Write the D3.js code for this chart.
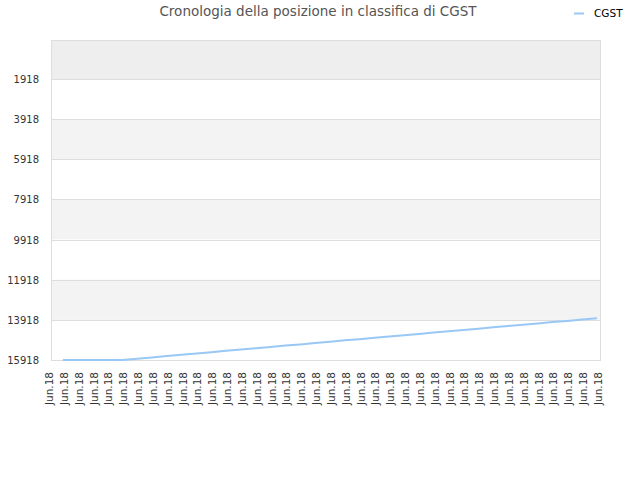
<!DOCTYPE html>
<html>
<head>
<meta charset="utf-8">
<script src="https://d3js.org/d3.v7.min.js"></script>
<style>
  body { margin: 0; background: #fff; }
  text { font-family: "DejaVu Sans", sans-serif; }
</style>
</head>
<body>
<div id="chart"></div>
<script>
var title = "Cronologia della posizione in classifica di CGST";
var seriesName = "CGST";
var tickLabels = d3.range(38).map(function() { return "Jun.18"; });
var yTicks = [1918, 3918, 5918, 7918, 9918, 11918, 13918, 15918];
var pointPos = [0.8, 1.8, 2.8, 3.8, 4.8, 5.8, 6.8, 7.8, 8.8, 9.8, 10.8, 11.8, 12.8,
  13.8, 14.8, 15.8, 16.8, 17.8, 18.8, 19.8, 20.8, 21.8, 22.8, 23.8, 24.8, 25.8,
  26.8, 27.8, 28.8, 29.8, 30.8, 31.8, 32.8, 33.8, 34.8, 35.8, 36.8];
var ranks = [15918, 15918, 15918, 15918, 15918, 15850, 15790, 15720, 15660, 15590,
  15530, 15460, 15400, 15330, 15270, 15200, 15140, 15070, 15010, 14940, 14880,
  14810, 14750, 14680, 14620, 14550, 14490, 14420, 14360, 14290, 14230, 14160,
  14100, 14030, 13970, 13900, 13840];

var width = 640, height = 480;
var pLeft = 51, pRight = 600, pTop = 40, pBottom = 360;

var svg = d3.select('#chart').append('svg')
  .attr('width', width)
  .attr('height', height);

var x = d3.scaleLinear().domain([0, tickLabels.length - 1]).range([pLeft, pRight]);
var y = d3.scaleLinear().domain([-25, 15918]).range([pTop, pBottom]);

// alternating bands
var bandEdges = [-25].concat(yTicks);
for (var i = 0; i < bandEdges.length - 1; i++) {
  var fill = i === 0 ? '#eeeeee' : (i % 2 === 0 ? '#f3f3f3' : '#ffffff');
  svg.append('rect')
    .attr('x', pLeft)
    .attr('y', y(bandEdges[i]))
    .attr('width', pRight - pLeft)
    .attr('height', y(bandEdges[i + 1]) - y(bandEdges[i]))
    .attr('fill', fill);
}

// grid lines
svg.selectAll('line.grid')
  .data(yTicks)
  .enter()
  .append('line')
  .attr('x1', pLeft).attr('x2', pRight)
  .attr('y1', function(d) { return Math.round(y(d)) + 0.5; })
  .attr('y2', function(d) { return Math.round(y(d)) + 0.5; })
  .attr('stroke', '#dddddd');

svg.append('rect')
  .attr('x', pLeft + 0.5).attr('y', pTop + 0.5)
  .attr('width', pRight - pLeft).attr('height', pBottom - pTop)
  .attr('fill', 'none')
  .attr('stroke', '#dddddd');

// y labels
svg.selectAll('text.ylab')
  .data(yTicks)
  .enter()
  .append('text')
  .attr('x', 39)
  .attr('y', function(d) { return y(d) + 4; })
  .attr('text-anchor', 'end')
  .attr('font-size', 10)
  .attr('fill', '#333')
  .text(function(d) { return d; });

// x labels
svg.selectAll('text.xlab')
  .data(tickLabels)
  .enter()
  .append('text')
  .attr('transform', function(d, i) { return 'translate(' + (x(i) + 2) + ',372) rotate(-90)'; })
  .attr('text-anchor', 'end')
  .attr('font-size', 10.5)
  .attr('fill', '#333')
  .text(function(d) { return d; });

// the line
var pts = pointPos.map(function(p, i) { return [p, ranks[i]]; });
svg.append('path')
  .datum(pts)
  .attr('fill', 'none')
  .attr('stroke', '#99c8f5')
  .attr('stroke-width', 2)
  .attr('d', d3.line().x(function(d) { return x(d[0]); }).y(function(d) { return y(d[1]); }));

// title
svg.append('text')
  .attr('x', 318).attr('y', 16)
  .attr('text-anchor', 'middle')
  .attr('font-size', 13.5)
  .attr('fill', '#555')
  .text(title);

// legend
svg.append('line')
  .attr('x1', 574).attr('x2', 584)
  .attr('y1', 13.5).attr('y2', 13.5)
  .attr('stroke', '#99c8f5')
  .attr('stroke-width', 2);
svg.append('text')
  .attr('x', 594).attr('y', 17)
  .attr('font-size', 10.5)
  .attr('fill', '#000')
  .text(seriesName);
</script>
</body>
</html>
